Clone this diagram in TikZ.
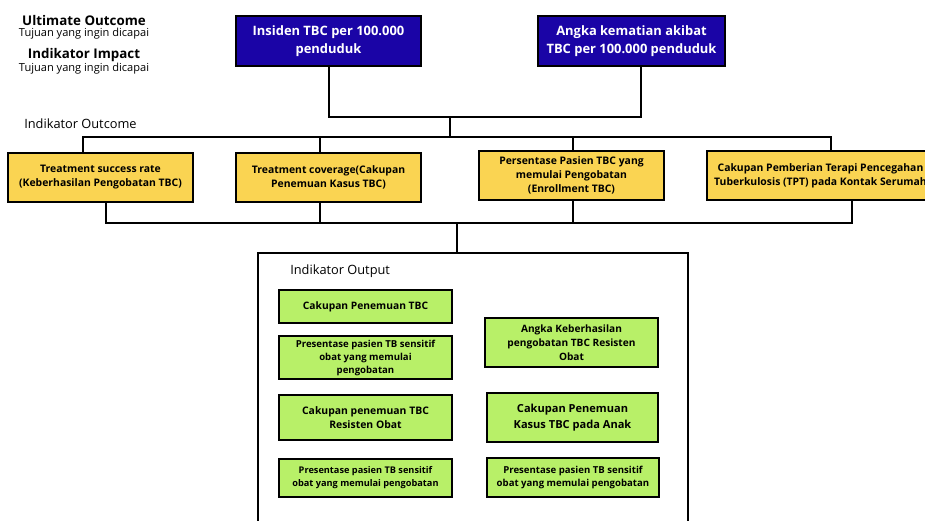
\documentclass[tikz,border=0pt]{standalone}
\usepackage{fontspec}
\setmainfont{Open Sans}
\usetikzlibrary{calc}
\definecolor{impactblue}{RGB}{26,4,166}
\definecolor{outcomeyellow}{RGB}{250,212,82}
\definecolor{outputgreen}{RGB}{184,240,104}
\tikzset{
    impactbox/.style={draw=black,line width=1.4pt,fill=impactblue,text=white,align=center,
        inner sep=0pt,font=\bfseries\fontsize{9.7}{13.5}\selectfont},
    outcomebox/.style={draw=black,line width=1.4pt,fill=outcomeyellow,align=center,
        inner sep=0pt,minimum height=36.75pt,font=\bfseries\fontsize{7.8}{10.5}\selectfont},
    outputbox/.style={draw=black,line width=1.4pt,fill=outputgreen,align=center,
        inner sep=0pt,font=\bfseries\fontsize{7.2}{9.75}\selectfont},
    framebox/.style={draw=black,line width=1.4pt,inner sep=0pt},
    link/.style={line width=1.5pt},
    headtitle/.style={inner sep=0pt,font=\bfseries\fontsize{10}{12}\selectfont},
    headsub/.style={inner sep=0pt,font=\fontsize{8.3}{9}\selectfont},
    sectionlabel/.style={inner sep=0pt,anchor=west,font=\fontsize{9.6}{11}\selectfont}
}

\begin{document}
\begin{tikzpicture}[x=0.75pt,y=-0.75pt]
    \useasboundingbox (0,0) rectangle (925,521);
    \clip (0,0) rectangle (925,521);
    % Legend
    \node[headtitle] (ultimate) at (84,20) {Ultimate Outcome};
    \node[headsub] (ultimatesub) at (84,34) {Tujuan yang ingin dicapai};
    \node[headtitle] (impact) at (84,55) {Indikator Impact};
    \node[headsub] (impactsub) at (84,69) {Tujuan yang ingin dicapai};
    % Impact indicators
    \node[impactbox,minimum width=138.75pt,minimum height=37.5pt] (imp1) at (328.5,41)
        {Insiden TBC per 100.000\\penduduk};
    \node[impactbox,minimum width=140.25pt,minimum height=37.5pt] (imp2) at (631.5,41)
        {Angka kematian akibat\\TBC per 100.000 penduduk};
    % Outcome indicators
    \node[sectionlabel] (outcomelabel) at (24,124) {Indikator Outcome};
    \node[outcomebox,minimum width=138.75pt] (oc1) at (100.5,177.5)
        {Treatment success rate\\(Keberhasilan Pengobatan TBC)};
    \node[outcomebox,minimum width=138.75pt] (oc2) at (328.5,177.5)
        {Treatment coverage(Cakupan\\Penemuan Kasus TBC)};
    \node[outcomebox,minimum width=138.75pt] (oc3) at (571.5,175.5)
        {Persentase Pasien TBC yang\\memulai Pengobatan\\(Enrollment TBC)};
    \node[outcomebox,minimum width=170.25pt,font=\bfseries\fontsize{7.8}{10.8}\selectfont] (oc4) at (820.5,175.5)
        {Cakupan Pemberian Terapi Pencegahan\\Tuberkulosis (TPT) pada Kontak Serumah};
    % Output indicators
    \node[framebox,minimum width=322.5pt,minimum height=225pt] (frame) at (473,403) {};
    \node[sectionlabel] (outputlabel) at (290,271) {Indikator Output};
    \node[outputbox,minimum width=129.75pt,minimum height=24.75pt,font=\bfseries\fontsize{7.7}{10}\selectfont] (op1) at (365.5,306.5)
        {Cakupan Penemuan TBC};
    \node[outputbox,minimum width=129.75pt,minimum height=32.25pt] (op2) at (365.5,357.5)
        {Presentase pasien TB sensitif\\obat yang memulai\\pengobatan};
    \node[outputbox,minimum width=129.75pt,minimum height=36.75pt,font=\bfseries\fontsize{7.6}{10.5}\selectfont] (op3) at (571.5,342.5)
        {Angka Keberhasilan\\pengobatan TBC Resisten\\Obat};
    \node[outputbox,minimum width=129.75pt,minimum height=33.75pt,font=\bfseries\fontsize{7.8}{11}\selectfont] (op4) at (365.5,417.5)
        {Cakupan penemuan TBC\\Resisten Obat};
    \node[outputbox,minimum width=128.25pt,minimum height=36.75pt,font=\bfseries\fontsize{8.3}{12}\selectfont] (op5) at (572.5,417.5)
        {Cakupan Penemuan\\Kasus TBC pada Anak};
    \node[outputbox,minimum width=129.75pt,minimum height=28.5pt,font=\bfseries\fontsize{6.9}{9.75}\selectfont] (op6) at (365.5,478)
        {Presentase pasien TB sensitif\\obat yang memulai pengobatan};
    \node[outputbox,minimum width=129pt,minimum height=29.25pt] (op7) at (573,477.5)
        {Presentase pasien TB sensitif\\obat yang memulai pengobatan};
    % Connectors
    \coordinate (top) at (450,117);
    \coordinate (mid) at (450,137);
    \coordinate (low) at (457,223);
    \draw[link] (imp1.south) |- (top) -| ($(imp2.south)+(9.5,0)$);
    \draw[link] (top) -- (mid);
    \draw[link] ($(oc1.north)+(-17.5,0)$) |- (mid) -| ($(oc4.north)+(10.5,0)$);
    \draw[link] ($(oc2.north)+(-8.5,0)$) |- (mid);
    \draw[link] ($(oc3.north)+(1.5,0)$) |- (mid);
    \draw[link] ($(oc1.south)+(5.5,0)$) |- (low) -| ($(oc4.south)+(31.5,0)$);
    \draw[link] ($(oc2.south)+(-8.5,0)$) |- (low);
    \draw[link] ($(oc3.south)+(1.5,0)$) |- (low);
    \draw[link] (low) -- (low |- frame.north);
\end{tikzpicture}
\end{document}
